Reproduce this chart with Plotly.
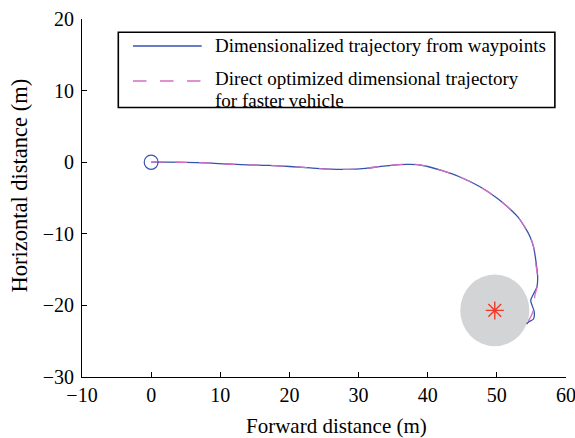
import plotly.graph_objects as go

# Dimensionalized trajectory from waypoints (blue, solid)
blue_x = [0, 2, 5, 8, 11, 14, 17, 20, 23, 26, 28.5, 31, 33, 35, 37, 38.5, 40, 42, 44.5, 47.5,
          50, 51.5, 53, 54, 54.8, 55.3, 55.7, 55.9, 55.8, 55.3, 54.9, 55.1, 55.4, 55.3, 54.6, 54.3]
blue_y = [0, 0, -0.02, -0.1, -0.25, -0.38, -0.45, -0.6, -0.8, -0.98, -1.0, -0.85, -0.62, -0.4,
          -0.3, -0.33, -0.6, -1.15, -2.0, -3.4, -5.0, -6.2, -7.6, -9.0, -10.4, -11.8, -14.2,
          -16.0, -17.4, -18.4, -19.3, -20.0, -20.9, -21.9, -22.3, -22.6]

# Direct optimized dimensional trajectory for faster vehicle (pink, dashed)
pink_x = [0, 2, 5, 8, 11, 14, 17, 20, 23, 26, 28.5, 31, 33, 35, 37, 38.5, 40, 42, 44.5, 47.5,
          50, 51.5, 53, 54, 54.8, 55.3, 55.6, 55.9, 55.8, 55.5, 55.4, 55.0, 54.3]
pink_y = [0, 0, -0.02, -0.1, -0.25, -0.38, -0.45, -0.6, -0.8, -0.98, -1.0, -0.85, -0.62, -0.4,
          -0.3, -0.33, -0.6, -1.15, -2.0, -3.4, -5.0, -6.2, -7.6, -9.0, -10.4, -11.8, -14.0,
          -16.2, -17.5, -18.6, -20.2, -21.4, -22.5]

start_point = (0, 0)
start_radius = 1.0
target_center = (49.7, -20.7)
target_radius = 5.0

x_ticks = [-10, 0, 10, 20, 30, 40, 50, 60]
y_ticks = [-30, -20, -10, 0, 10, 20]

x_title = "Forward distance (m)"
y_title = "Horizontal distance (m)"
legend_labels = ["Dimensionalized trajectory from waypoints",
                 "Direct optimized dimensional trajectory",
                 "for faster vehicle"]

BLUE = "#3552b0"
PINK = "#d46ec2"
RED = "#f03a28"
FONT = "Liberation Serif, Times New Roman, serif"

fig = go.Figure()

fig.add_shape(type="circle", xref="x", yref="y",
              x0=target_center[0] - target_radius, x1=target_center[0] + target_radius,
              y0=target_center[1] - target_radius, y1=target_center[1] + target_radius,
              fillcolor="#d3d4d6", line=dict(width=0), layer="below")
fig.add_shape(type="circle", xref="x", yref="y",
              x0=start_point[0] - start_radius, x1=start_point[0] + start_radius,
              y0=start_point[1] - start_radius, y1=start_point[1] + start_radius,
              line=dict(color=BLUE, width=1.2))

fig.add_trace(go.Scatter(x=blue_x, y=blue_y, mode="lines", line=dict(color=BLUE, width=1.3),
                         line_shape="spline", showlegend=False))
fig.add_trace(go.Scatter(x=pink_x, y=pink_y, mode="lines",
                         line=dict(color=PINK, width=1.3, dash="12px,12px"),
                         line_shape="spline", showlegend=False))
fig.add_trace(go.Scatter(x=[target_center[0]], y=[target_center[1]], mode="markers",
                         marker=dict(symbol="asterisk-open", size=15, color=RED,
                                     line=dict(color=RED, width=1.4)),
                         showlegend=False))

# Legend box
fig.add_shape(type="rect", xref="paper", yref="paper", x0=0.075, x1=0.977, y0=0.753, y1=0.963,
              line=dict(color="black", width=1.6), fillcolor="white")
fig.add_shape(type="line", xref="paper", yref="paper", x0=0.1054, x1=0.2473, y0=0.9246, y1=0.9246,
              line=dict(color=BLUE, width=1.3))
fig.add_shape(type="line", xref="paper", yref="paper", x0=0.1054, x1=0.2473, y0=0.8268, y1=0.8268,
              line=dict(color=PINK, width=1.3, dash="13.5px,13.5px"))
for label, yy in zip(legend_labels, [0.9246, 0.834, 0.772]):
    fig.add_annotation(text=label, xref="paper", yref="paper", x=0.2713, y=yy,
                       xanchor="left", yanchor="middle", showarrow=False,
                       font=dict(family=FONT, size=19, color="black"))

# Axis titles
fig.add_annotation(text=x_title, xref="paper", yref="paper", x=0.526, y=-0.138,
                   xanchor="center", yanchor="middle", showarrow=False,
                   font=dict(family=FONT, size=21, color="black"))
fig.add_annotation(text=y_title, xref="paper", yref="paper", x=-0.13, y=0.535,
                   xanchor="center", yanchor="middle", showarrow=False, textangle=-90,
                   font=dict(family=FONT, size=22.5, color="black"))

axis_common = dict(showgrid=False, zeroline=False, showline=True, linecolor="black", linewidth=1,
                   ticks="inside", ticklen=5, tickcolor="black", tickwidth=1, automargin=False,
                   ticklabeloverflow="allow",
                   tickfont=dict(family=FONT, size=20, color="black"), mirror=False)

fig.update_layout(
    width=575, height=438, autosize=False,
    margin=dict(l=82, r=9, t=19, b=61),
    font=dict(family=FONT, color="black"),
    paper_bgcolor="white", plot_bgcolor="white",
    xaxis=dict(range=[-10, 60], tickvals=x_ticks, **axis_common),
    yaxis=dict(range=[-30, 20], tickvals=y_ticks, **axis_common, ticklabelstandoff=3),
    showlegend=False,
)

# Remove the default 8px page margin so the figure fills the window exactly.
fig.write_html("out.html", config={"displayModeBar": False},
               post_script="document.body.style.margin='0';document.body.style.overflow='hidden';")
